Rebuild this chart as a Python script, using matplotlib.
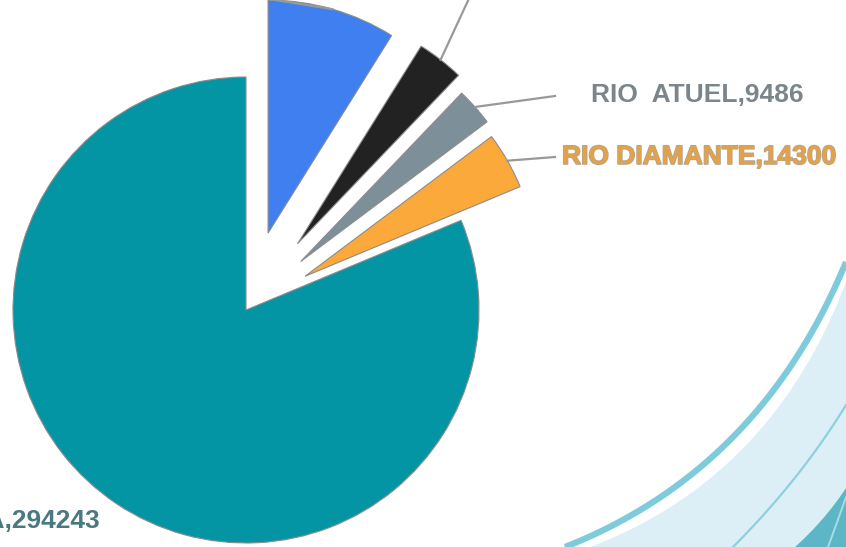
"""Exploded pie of river basin values, cropped view."""
import numpy as np
import matplotlib.pyplot as plt
from matplotlib import patheffects

W, H = 846, 547

names = ['RIO TUNUYAN', 'RIO MALARGUE', 'RIO  ATUEL', 'RIO DIAMANTE', 'RIO MENDOZA']
values = [32200, 11760, 9486, 14300, 294243]
colours = ['#3F7FEF', '#222222', '#7D8F99', '#FBA93A', '#0495A5']
label_colours = ['#7A858C', '#7A858C', '#7A858C', '#E3A24A', '#4A7A80']


def bezier(p0, p1, p2, n=80):
    t = np.linspace(0, 1, n)[:, None]
    p0, p1, p2 = map(np.asarray, (p0, p1, p2))
    pts = (1 - t)**2 * p0 + 2 * (1 - t) * t * p1 + t**2 * p2
    return pts[:, 0], H - pts[:, 1]


fig = plt.figure(figsize=(W / 100, H / 100), dpi=100)
ax = fig.add_axes([0, 0, 1, 1])

# background swoosh in the lower right corner
fx, fy = bezier((590, 547), (772, 478), (846, 282))
ax.fill(np.r_[fx, W, W], np.r_[fy, 0, 0], color='#DDEFF6', lw=0, zorder=0)
bx, by = bezier((795, 547), (825, 520), (846, 488))
ax.fill(np.r_[bx, W], np.r_[by, 0], color='#5DB6C6', lw=0, zorder=0)
ax.plot(*bezier((565, 547), (760, 470), (846, 262)), color='#7ECBDC', lw=4.5,
        solid_capstyle='butt', zorder=1)
ax.plot(*bezier((733, 547), (800, 480), (846, 405)), color='#8DD0DE', lw=1.6, zorder=1)
ax.plot(*bezier((828, 547), (838, 520), (846, 497)), color='#A8DCE7', lw=1.4, zorder=1)

radius = 233
centre = (246, H - 310)
explode = [80, 84, 73, 68, 0]

wedges, _ = ax.pie(values, colors=colours, startangle=90, counterclock=False,
                   explode=explode, radius=radius, center=centre, frame=True,
                   wedgeprops=dict(edgecolor='#8C8C8C', linewidth=0.8))
ax.set_xlim(0, W)
ax.set_ylim(0, H)
ax.set_aspect('equal')
ax.axis('off')

# label positions (pixel coordinates of the cropped picture, y from top)
label_pos = [(140, -40), (490, -35), (697, 95), (562, 157), (100, 521)]
line_end = [(150, -20), (472, -8), (555, 96), (555, 157), None]
aligns = ['right', 'left', 'center', 'left', 'right']

for w, name, val, col, pos, end, ha in zip(wedges, names, values, label_colours,
                                           label_pos, line_end, aligns):
    thetam = np.deg2rad(0.5 * (w.theta1 + w.theta2))
    ax_x = w.center[0] + w.r * np.cos(thetam)
    ax_y = w.center[1] + w.r * np.sin(thetam)
    if end is not None:
        ax.plot([ax_x, end[0]], [ax_y, H - end[1]], color='#999999', lw=1.6,
                clip_on=False, zorder=3)
    t = ax.text(pos[0], H - pos[1], f'{name},{val}', ha=ha, va='center',
                fontsize=19, fontweight='bold', family='Liberation Sans',
                color=col, clip_on=False, zorder=4)
    if name == 'RIO DIAMANTE':
        t.set_path_effects([patheffects.withStroke(linewidth=1.2, foreground='#B5A48C')])

fig.savefig('out.png', dpi=100)
